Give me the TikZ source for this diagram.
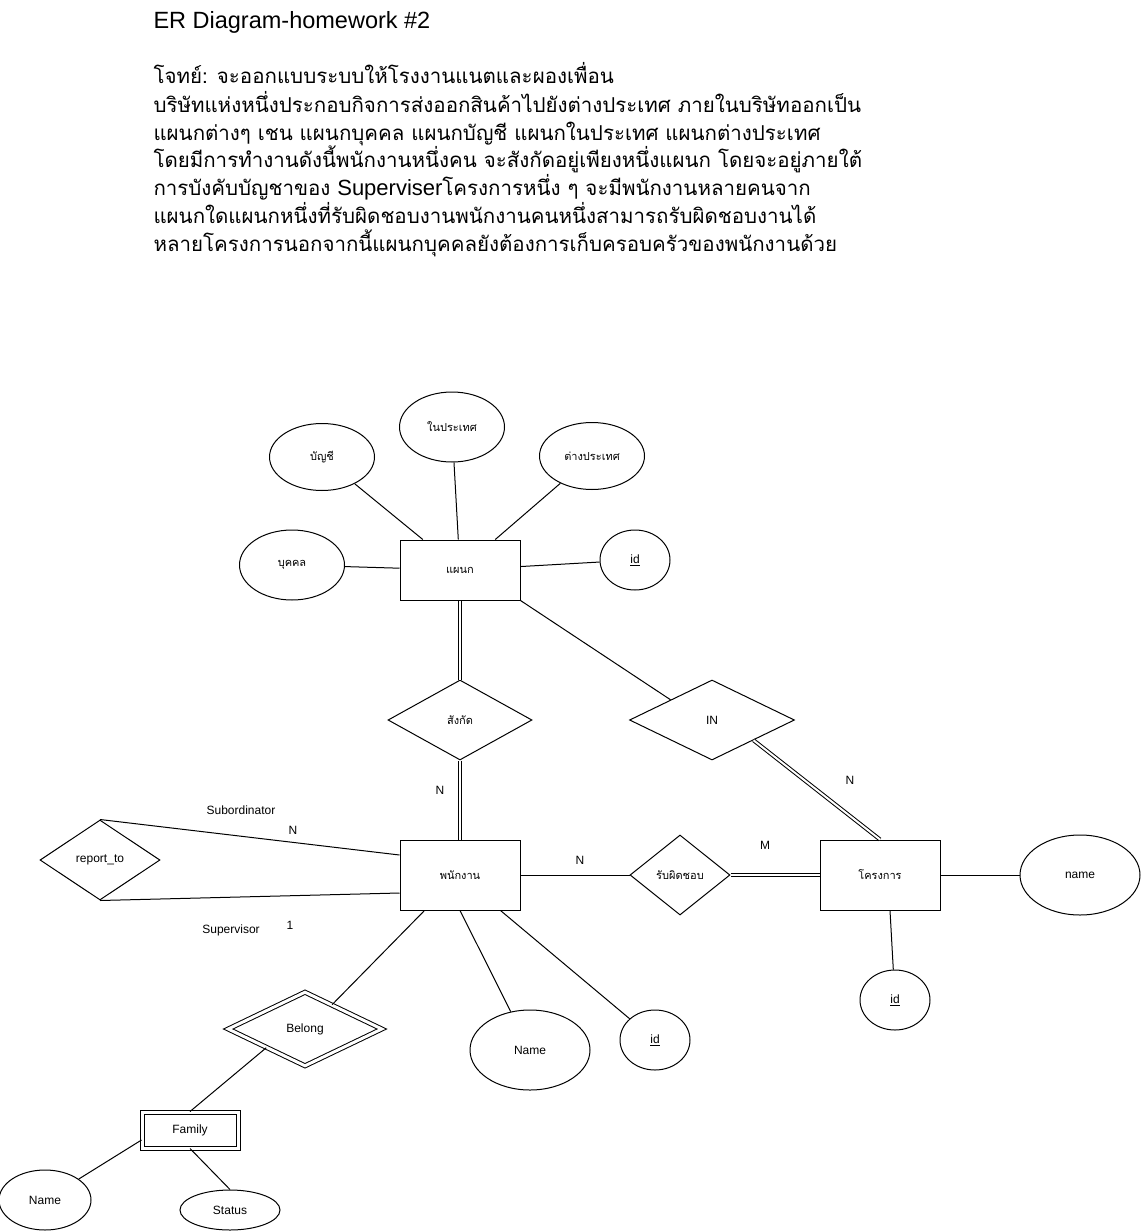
\documentclass[tikz,border=0pt]{standalone}
\usepackage{fontspec}
\setmainfont{Liberation Sans}
\newfontfamily\thaifont[Script=Thai]{Loma}
\usetikzlibrary{shapes.geometric,calc}
\begin{document}
\begin{tikzpicture}[x=1pt,y=-1pt,line width=1pt,
  every node/.style={font=\fontsize{12}{14}\selectfont, inner sep=0pt},
  thl/.style={font=\thaifont\fontsize{11}{13}\selectfont},
  ent/.style={draw, rectangle, minimum width=120pt, minimum height=70pt},
  attr/.style={draw, ellipse, minimum width=105pt, minimum height=70pt},
  rel/.style={draw, diamond, minimum width=#1, minimum height=80pt},
  dbl/.style={double, double distance=2pt},
  lbl/.style={font=\fontsize{12}{14}\selectfont},
  para/.style={anchor=base west, font=\thaifont\fontsize{20.5}{23}\selectfont}
]
\useasboundingbox (0,0) rectangle (1141,1231);
% ---- text block
\node[anchor=base west, font=\fontsize{23.5}{26}\selectfont] (title) at (153,29) {ER Diagram-homework \#2};
\node[para] (p1) at (153,84) {โจทย์: จะออกแบบระบบให้โรงงานแนตและผองเพื่อน};
\node[para] (p2) at (153,112) {บริษัทแห่งหนึ่งประกอบกิจการส่งออกสินค้าไปยังต่างประเทศ ภายในบริษัทออกเป็น};
\node[para] (p3) at (153,140) {แผนกต่างๆ เชน แผนกบุคคล แผนกบัญชี แผนกในประเทศ แผนกต่างประเทศ};
\node[para] (p4) at (153,167) {โดยมีการทำงานดังนี้พนักงานหนึ่งคน จะสังกัดอยู่เพียงหนึ่งแผนก โดยจะอยู่ภายใต้};
\node[para] (p5) at (153,195) {การบังคับบัญชาของ {\rmfamily\fontsize{22}{24}\selectfont Superviser}โครงการหนึ่ง ๆ จะมีพนักงานหลายคนจาก};
\node[para] (p6) at (153,223) {แผนกใดแผนกหนึ่งที่รับผิดชอบงานพนักงานคนหนึ่งสามารถรับผิดชอบงานได้};
\node[para] (p7) at (153,251) {หลายโครงการนอกจากนี้แผนกบุคคลยังต้องการเก็บครอบครัวของพนักงานด้วย};
% ---- entities
\node[ent, minimum height=60pt, thl] (dept) at (460,570) {แผนก};
\node[ent, thl] (emp) at (460,875) {พนักงาน};
\node[ent, thl] (proj) at (880,875) {โครงการ};
\node[draw, double, double distance=3pt, minimum width=96pt, minimum height=36pt] (fam) at (190,1130) {Family};
% ---- attributes of dept
\node[attr, thl, minimum height=67pt] (acc) at (322,457) {บัญชี};
\node[attr, thl] (dom) at (452,427) {ในประเทศ};
\node[attr, thl, minimum height=67pt] (abr) at (592,456) {ต่างประเทศ};
\node[attr, thl] (hr) at (292,565) {บุคคล};
\node[attr, minimum width=70pt, minimum height=60pt] (did) at (635,560) {\underline{id}};
% ---- relationships
\node[rel=144pt, thl] (sang) at (460,720) {สังกัด};
\node[rel=165pt] (in) at (712,720) {IN};
\node[rel=100pt, thl] (resp) at (680,875) {รับผิดชอบ};
\node[rel=120pt] (rep) at (100,860) {report\_to};
\node[draw, diamond, double, double distance=3pt, minimum width=154pt, minimum height=74pt] (bel) at (305,1029) {Belong};
% ---- other attributes
\node[attr, minimum width=120pt, minimum height=80pt] (pname) at (1080,875) {name};
\node[attr, minimum width=70pt, minimum height=60pt] (pid) at (895,1000) {\underline{id}};
\node[attr, minimum width=120pt, minimum height=80pt] (ename) at (530,1050) {Name};
\node[attr, minimum width=70pt, minimum height=60pt] (eid) at (655,1040) {\underline{id}};
\node[attr, minimum width=92pt, minimum height=60pt] (fname) at (45,1200) {Name};
\node[attr, minimum width=100pt, minimum height=40pt] (fstat) at (230,1210) {Status};
% ---- connectors
\draw (acc) -- (dept);
\draw (dom) -- (dept);
\draw (abr) -- (dept);
\draw (hr) -- (dept);
\draw (did) -- (dept);
\draw[dbl] (dept) -- (sang);
\draw[dbl] (sang) -- (emp);
\draw (dept.south east) -- (in.north west);
\draw[dbl] (in.south east) -- (proj.north);
\draw (emp) -- (resp);
\draw[dbl] (resp) -- (proj);
\draw (proj) -- (pname);
\draw ($(proj.south)+(10,0)$) -- (pid);
\draw (rep.north) -- ($(emp.west)+(0,-20)$);
\draw (rep.south) -- ($(emp.west)+(0,18)$);
\draw ($(emp.south west)+(25,0)$) -- ($(bel.north)!0.35!(bel.east)$);
\draw (bel.south west) -- (fam.north);
\draw ($(fam.west)+(0,10)$) -- (fname);
\draw (fam.south) -- (fstat.north);
\draw (emp.south) -- (ename);
\draw ($(emp.south east)+(-20,0)$) -- (eid);
% ---- cardinality / role labels
\node[lbl] (lsub) at (241,810) {Subordinator};
\node[lbl] (lsubn) at (293,830) {N};
\node[lbl] (lsup) at (231,930) {Supervisor};
\node[lbl] (lsup1) at (290,925) {1};
\node[lbl] (lsangn) at (440,790) {N};
\node[lbl] (linn) at (850,780) {N};
\node[lbl] (lrespn) at (580,860) {N};
\node[lbl] (lrespm) at (765,845) {M};
\end{tikzpicture}
\end{document}
